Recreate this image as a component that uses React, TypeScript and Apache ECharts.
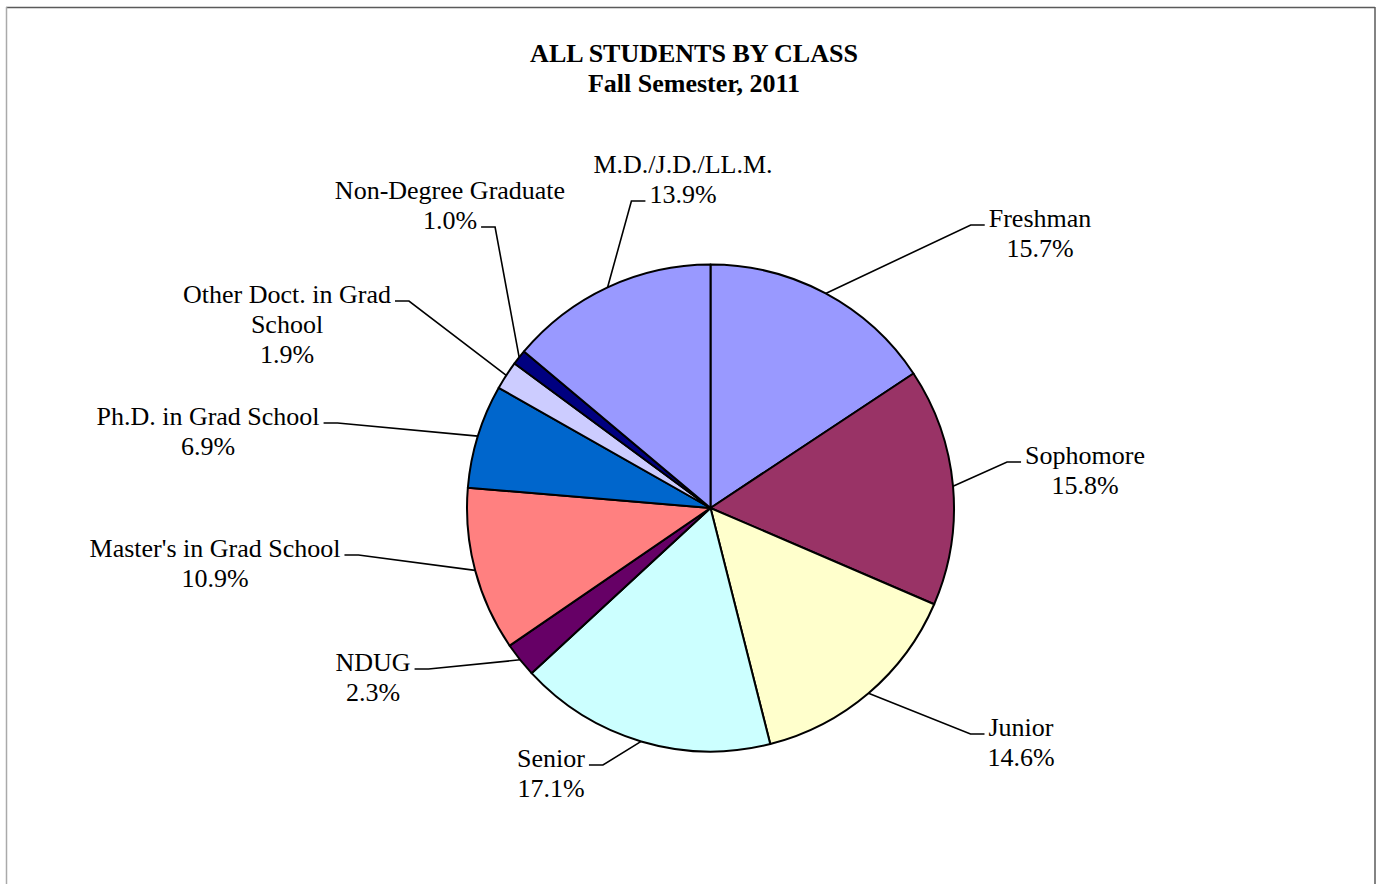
import React, { useEffect, useRef } from "react";
import * as echarts from "echarts";

const CATEGORIES = [
  "Freshman",
  "Sophomore",
  "Junior",
  "Senior",
  "NDUG",
  "Master's in Grad School",
  "Ph.D. in Grad School",
  "Other Doct. in Grad School",
  "Non-Degree Graduate",
  "M.D./J.D./LL.M.",
];
const PERCENTS = [15.7, 15.8, 14.6, 17.1, 2.3, 10.9, 6.9, 1.9, 1.0, 13.9];
const COLORS = [
  "#9999FF",
  "#993366",
  "#FFFFCC",
  "#CCFFFF",
  "#660066",
  "#FF8080",
  "#0066CC",
  "#CCCCFF",
  "#000080",
  "#9999FF",
];
const TITLE = "ALL STUDENTS BY CLASS";
const SUBTITLE = "Fall Semester, 2011";

// label layout: [center x, top y, leader side, leader line index]
const LABEL_LAYOUT: [number, number, "L" | "R", number][] = [
  [1040, 203, "L", 0],
  [1085, 440, "L", 0],
  [1021, 712, "L", 0],
  [551, 743, "R", 0],
  [373, 647, "R", 0],
  [215, 533, "R", 0],
  [208, 401, "R", 0],
  [287, 279, "R", 0],
  [450, 175, "R", 1],
  [683, 149, "L", 1],
];

const FONT = '"Liberation Serif", "Times New Roman", serif';
const LINE_H = 30;
const FONT_SIZE = 26;

const wrapName = (n: string) =>
  n === "Other Doct. in Grad School" ? "Other Doct. in Grad\nSchool" : n;

let measureCtx: CanvasRenderingContext2D | null = null;
function measure(t: string): number {
  if (!measureCtx) {
    const c = document.createElement("canvas");
    measureCtx = c.getContext("2d");
  }
  if (!measureCtx) return t.length * 12;
  measureCtx.font = `${FONT_SIZE}px ${FONT}`;
  return measureCtx.measureText(t).width;
}

export default function App() {
  const ref = useRef<HTMLDivElement>(null);
  useEffect(() => {
    if (!ref.current) return;
    const chart = echarts.init(ref.current, undefined, { renderer: "svg" });
    const data = CATEGORIES.map((name, i) => ({
      name,
      value: PERCENTS[i],
      itemStyle: { color: COLORS[i] },
    }));
    chart.setOption({
      animation: false,
      backgroundColor: "#ffffff",
      title: {
        text: `${TITLE}\n${SUBTITLE}`,
        left: 689,
        top: 33,
        textAlign: "center",
        textStyle: {
          fontFamily: FONT,
          fontWeight: "bold",
          fontSize: FONT_SIZE,
          lineHeight: LINE_H,
          color: "#000",
        },
      },
      graphic: [
        {
          type: "line",
          shape: { x1: 6, y1: 7.5, x2: 1375, y2: 7.5 },
          style: { stroke: "#5a5a5a", lineWidth: 1.5 },
        },
        {
          type: "line",
          shape: { x1: 1375, y1: 7, x2: 1375, y2: 900 },
          style: { stroke: "#5a5a5a", lineWidth: 1.5 },
        },
        {
          type: "line",
          shape: { x1: 6.5, y1: 7, x2: 6.5, y2: 900 },
          style: { stroke: "#aaaaaa", lineWidth: 1.5 },
        },
      ],
      series: [
        {
          type: "pie",
          center: [710.5, 508],
          radius: 243.5,
          startAngle: 90,
          clockwise: true,
          avoidLabelOverlap: false,
          data,
          itemStyle: { borderColor: "#000", borderWidth: 2 },
          emphasis: { disabled: true },
          label: {
            show: true,
            position: "outside",
            fontFamily: FONT,
            fontSize: FONT_SIZE,
            lineHeight: LINE_H,
            color: "#000",
            align: "center",
            formatter: (p: any) => `${wrapName(p.name)}\n${p.value.toFixed(1)}%`,
          },
          labelLine: {
            show: true,
            length: 20,
            length2: 14,
            smooth: false,
            lineStyle: { color: "#000", width: 1.6 },
          },
          labelLayout: (params: any) => {
            const i = params.dataIndex;
            const [cx, top, side, li] = LABEL_LAYOUT[i];
            const lines = String(params.text || "").split("\n");
            const w = measure(lines[li] || "");
            const ay = top + li * LINE_H + 22;
            const endX = side === "L" ? cx - w / 2 - 4 : cx + w / 2 + 4;
            const elbowX = side === "L" ? endX - 14 : endX + 14;
            const p0 = params.labelLinePoints ? params.labelLinePoints[0] : [cx, top];
            return {
              x: cx,
              y: top,
              align: "center",
              verticalAlign: "top",
              labelLinePoints: [p0, [elbowX, ay], [endX, ay]],
            };
          },
        },
      ],
    });
    return () => chart.dispose();
  }, []);
  return (
    <div
      ref={ref}
      style={{ position: "fixed", left: 0, top: 0, width: 1380, height: 884 }}
    />
  );
}
